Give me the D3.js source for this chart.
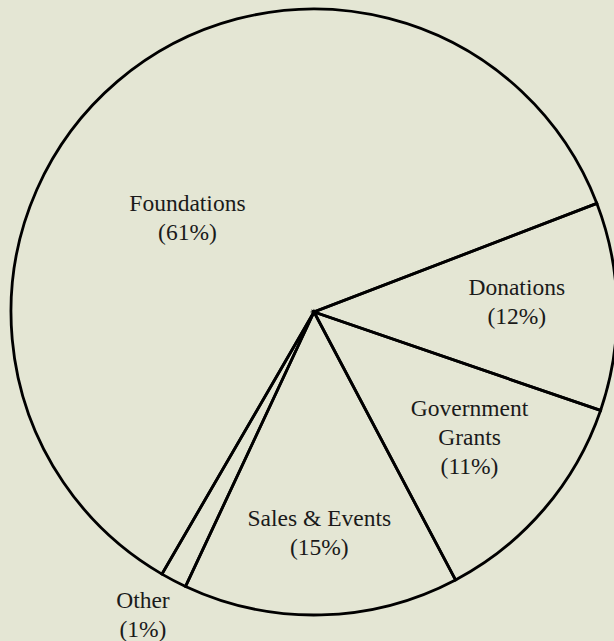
<!DOCTYPE html>
<html>
<head>
<meta charset="utf-8">
<script src="https://cdn.jsdelivr.net/npm/d3@7"></script>
<style>
  html, body { margin: 0; padding: 0; background: #e4e6d4; overflow: hidden; }
  svg { display: block; }
</style>
</head>
<body>
<script>
// slice names, shares and the printed labels
var names = ["Donations", "Government Grants", "Sales & Events", "Other", "Foundations"];
var shares = [11.1, 12.0, 14.7, 1.4, 60.8];
var labelLines = [
  ["Donations", "(12%)"],
  ["Government", "Grants", "(11%)"],
  ["Sales & Events", "(15%)"],
  ["Other", "(1%)"],
  ["Foundations", "(61%)"]
];

var width = 614, height = 641;
var cx = 314, cy = 312, radius = 303;

var svg = d3.select("body").append("svg")
    .attr("width", width)
    .attr("height", height);

var g = svg.append("g").attr("transform", "translate(" + cx + "," + cy + ")");

var data = names.map(function (n, i) { return {name: n, value: shares[i], lines: labelLines[i]}; });

var start = 69 * Math.PI / 180;
var pie = d3.pie()
    .sort(null)
    .value(function (d) { return d.value; })
    .startAngle(start)
    .endAngle(start + 2 * Math.PI);

var arc = d3.arc().innerRadius(0).outerRadius(radius);

var arcs = pie(data);

g.selectAll("path.slice")
    .data(arcs)
    .enter().append("path")
    .attr("class", "slice")
    .attr("d", arc)
    .attr("fill", "none")
    .attr("stroke", "#000")
    .attr("stroke-width", 2.8)
    .attr("stroke-linejoin", "miter");

// label placement: fraction of radius, plus a small angle nudge for the big slice
var labelR = {"Donations": 0.67, "Government Grants": 0.66, "Sales & Events": 0.73, "Other": 1.15, "Foundations": 0.52};
var labelNudge = {"Foundations": -13 * Math.PI / 180, "Other": 1.8 * Math.PI / 180, "Donations": -1.8 * Math.PI / 180, "Government Grants": -1.6 * Math.PI / 180};

var lineH = 29;
var labels = g.selectAll("text.lbl")
    .data(arcs)
    .enter().append("text")
    .attr("class", "lbl")
    .attr("text-anchor", "middle")
    .attr("font-family", "'Liberation Serif', 'Times New Roman', serif")
    .attr("font-size", "23.5px")
    .attr("fill", "#1a1a1a")
    .each(function (d) {
      var a = (d.startAngle + d.endAngle) / 2 + (labelNudge[d.data.name] || 0);
      var r = radius * labelR[d.data.name];
      var x = Math.sin(a) * r, y = -Math.cos(a) * r;
      var n = d.data.lines.length;
      var y0 = y - (n - 1) * lineH / 2 + 7;
      d3.select(this).selectAll("tspan")
        .data(d.data.lines)
        .enter().append("tspan")
        .attr("x", x)
        .attr("y", function (t, i) { return y0 + i * lineH; })
        .text(function (t) { return t; });
    });
</script>
</body>
</html>
